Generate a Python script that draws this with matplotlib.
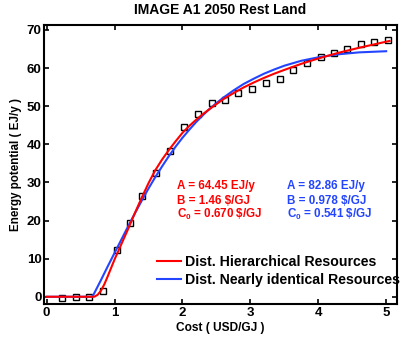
import matplotlib
matplotlib.use("Agg")
import matplotlib.pyplot as plt

# ---- data ----
cost_pts = [0.22, 0.43, 0.63, 0.83, 1.03, 1.23, 1.41, 1.61, 1.82, 2.02, 2.23, 2.43, 2.62,
            2.82, 3.02, 3.23, 3.43, 3.63, 3.83, 4.04, 4.23, 4.42, 4.63, 4.82, 5.03]
energy_pts = [-0.3, 0.0, 0.0, 1.6, 12.2, 19.3, 26.4, 32.5, 38.3, 44.4, 48.0, 50.9, 51.6,
              53.4, 54.6, 56.0, 57.2, 59.6, 61.4, 62.8, 63.9, 64.9, 66.2, 66.8, 67.4]

red_x = [0.00, 0.70, 0.75, 0.80, 0.85, 0.90, 0.95, 1.00, 1.10, 1.20, 1.30, 1.40, 1.50, 1.60,
         1.70, 1.80, 1.90, 2.00, 2.10, 2.20, 2.30, 2.45, 2.60, 2.75, 2.90, 3.05, 3.20, 3.35,
         3.50, 3.75, 4.00, 4.30, 4.60, 4.80, 5.05]
red_y = [0.0, 0.0, 0.5, 1.6, 3.3, 5.4, 7.6, 9.8, 13.8, 17.8, 22.0, 26.0, 29.8, 33.2,
         36.0, 38.5, 40.8, 43.0, 44.8, 46.4, 47.9, 49.9, 51.8, 53.4, 54.9, 56.2, 57.4, 58.5,
         59.5, 61.1, 62.5, 64.0, 65.3, 66.1, 67.1]

blue_x = [0.00, 0.67, 0.70, 0.80, 0.90, 1.00, 1.10, 1.20, 1.30, 1.40, 1.50, 1.60, 1.70,
          1.80, 1.90, 2.00, 2.10, 2.20, 2.30, 2.40, 2.50, 2.60, 2.75, 2.90, 3.05, 3.20,
          3.35, 3.50, 3.75, 4.00, 4.30, 4.60, 5.00]
blue_y = [0.0, 0.0, 0.9, 4.4, 8.0, 11.5, 15.0, 18.5, 21.9, 25.2, 28.4, 31.4, 34.2,
          36.9, 39.4, 41.7, 43.8, 45.8, 47.6, 49.3, 50.8, 52.2, 54.1, 55.8, 57.2, 58.5,
          59.6, 60.6, 61.9, 62.8, 63.6, 64.1, 64.4]

legend_labels = ["Dist. Hierarchical Resources", "Dist. Nearly identical Resources"]
red_params = ["A = 64.45 EJ/y", "B = 1.46 \\$/GJ", "C$_0$ = 0.670 \\$/GJ"]
blue_params = ["A = 82.86 EJ/y", "B = 0.978 \\$/GJ", "C$_0$ = 0.541 \\$/GJ"]
x_ticks = [0, 1, 2, 3, 4, 5]
y_ticks = [0, 10, 20, 30, 40, 50, 60, 70]

RED = "#ff0000"
BLUE = "#2445ff"

plt.rcParams["font.family"] = ["Liberation Sans", "DejaVu Sans"]
plt.rcParams["mathtext.fontset"] = "custom"
plt.rcParams["mathtext.rm"] = "Liberation Sans:bold"
plt.rcParams["mathtext.it"] = "Liberation Sans:bold"
plt.rcParams["mathtext.bf"] = "Liberation Sans:bold"

fig = plt.figure(figsize=(4.15, 3.37), dpi=100)
ax = fig.add_axes([44.3 / 415, 1 - 304 / 337, (396.7 - 44.3) / 415, (304 - 25.3) / 337])

ax.plot(cost_pts, energy_pts, linestyle="none", marker="s", markersize=3.9,
        markerfacecolor="none", markeredgecolor="black", markeredgewidth=1.0, zorder=2)
lb, = ax.plot(blue_x, blue_y, color=BLUE, lw=1.5, zorder=3)
lr, = ax.plot(red_x, red_y, color=RED, lw=1.5, zorder=4)

ax.set_xlim(-0.035, 5.155)
ax.set_ylim(-1.9, 71.2)
ax.set_xticks(x_ticks)
ax.set_yticks(y_ticks)
ax.tick_params(direction="in", top=True, right=True, length=3.5, width=1.2,
               labelsize=9.5, pad=2)
for lab in ax.get_xticklabels() + ax.get_yticklabels():
    lab.set_fontweight("bold")
for sp in ax.spines.values():
    sp.set_linewidth(1.5)

ax.set_title("IMAGE A1 2050 Rest Land", fontsize=10, fontweight="bold", pad=8)
ax.set_xlabel("Cost ( USD/GJ )", fontsize=8.6, fontweight="bold", labelpad=2)
ax.set_ylabel("Energy potential ( EJ/y )", fontsize=8.4, fontweight="bold", labelpad=3)

# parameter texts (baselines in pixels converted to figure fraction)
baselines = [189.3, 204.0, 217.6]
for i, s in enumerate(red_params):
    fig.text(176.7 / 415, 1 - baselines[i] / 337, s, color=RED, fontsize=8.4,
             fontweight="bold", va="baseline", ha="left")
for i, s in enumerate(blue_params):
    fig.text(286.7 / 415, 1 - baselines[i] / 337, s, color=BLUE, fontsize=8.4,
             fontweight="bold", va="baseline", ha="left")

leg = ax.legend([lr, lb], legend_labels, loc="upper left",
                bbox_to_anchor=((157 - 44.3) / (396.7 - 44.3), (304 - 255) / (304 - 25.3)),
                frameon=False, handlelength=1.7, handletextpad=0.25, labelspacing=0.3,
                borderaxespad=0, borderpad=0,
                prop={"size": 10.2, "weight": "bold"})

fig.savefig("out.png", dpi=100)
